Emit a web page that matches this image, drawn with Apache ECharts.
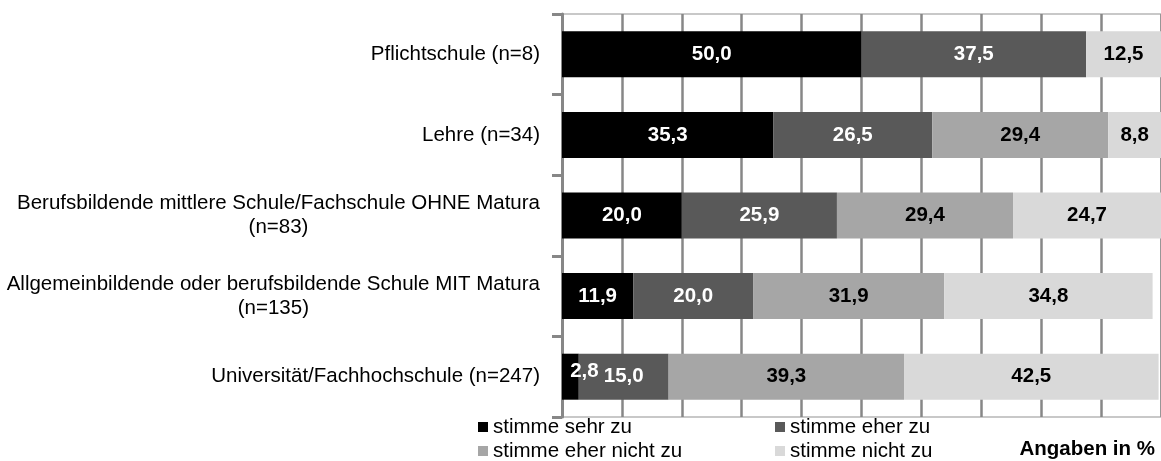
<!DOCTYPE html>
<html>
<head>
<meta charset="utf-8">
<script src="https://cdn.jsdelivr.net/npm/echarts@6/dist/echarts.min.js"></script>
<style>
  html, body { margin: 0; padding: 0; background: #fff; }
  #chart { width: 1161px; height: 461px; }
</style>
</head>
<body>
<div id="chart"></div>
<script>
// Zustimmung nach Bildungsabschluss (Angaben in %)
var categories = [
    'Pflichtschule (n=8)',
    'Lehre (n=34)',
    'Berufsbildende mittlere Schule/Fachschule OHNE Matura\n(n=83)',
    'Allgemeinbildende oder berufsbildende Schule MIT Matura\n(n=135)',
    'Universität/Fachhochschule (n=247)'
];
var seriesNames = ['stimme sehr zu', 'stimme eher zu', 'stimme eher nicht zu', 'stimme nicht zu'];
var sehrZu      = [50.0, 35.3, 20.0, 11.9, 2.8];
var eherZu      = [37.5, 26.5, 25.9, 20.0, 15.0];
var eherNichtZu = [0,    29.4, 29.4, 31.9, 39.3];
var nichtZu     = [12.5, 8.8,  24.7, 34.8, 42.5];

var colors = ['#000000', '#595959', '#a6a6a6', '#d9d9d9'];
var labelColors = ['#ffffff', '#ffffff', '#000000', '#000000'];
var FONT = '"Liberation Sans", Arial, sans-serif';
var FS = 20.5;

function fmt(p) {
    if (!p.value) return '';
    return p.value.toFixed(1).replace('.', ',');
}

function makeSeries(idx, values) {
    var data = values.map(function(v, i) {
        // tiny segment: label nudged right/up like in the original
        if (idx === 0 && i === 4) return { value: v, label: { offset: [14, -5] } };
        return v;
    });
    return {
        name: seriesNames[idx],
        type: 'bar',
        stack: 'total',
        barWidth: 46,
        itemStyle: { color: colors[idx] },
        label: {
            show: true,
            position: 'inside',
            formatter: fmt,
            color: labelColors[idx],
            fontFamily: FONT,
            fontSize: FS,
            fontWeight: 'bold'
        },
        data: data
    };
}

// one legend per entry so the 2x2 layout stays put
function legendItem(name, left, top) {
    return {
        left: left, top: top, padding: 0,
        icon: 'rect', itemWidth: 10, itemHeight: 10,
        textStyle: { fontFamily: FONT, fontSize: FS, color: '#000', lineHeight: 24 },
        data: [name]
    };
}

var chart = echarts.init(document.getElementById('chart'), null, { renderer: 'canvas' });
chart.setOption({
    animation: false,
    backgroundColor: '#ffffff',
    grid: {
        left: 562, right: 0, top: 14, bottom: 44,
        show: true, borderColor: '#c8c8c8', borderWidth: 2,
        outerBoundsMode: 'none'
    },
    legend: [
        legendItem(seriesNames[0], 478, 415),
        legendItem(seriesNames[1], 775, 415),
        legendItem(seriesNames[2], 478, 439),
        legendItem(seriesNames[3], 775, 439)
    ],
    xAxis: {
        type: 'value', min: 0, max: 100, interval: 10,
        axisLabel: { show: false },
        axisLine: { show: false },
        axisTick: { show: false },
        splitLine: { show: true, lineStyle: { color: '#878787', width: 2.5 } }
    },
    yAxis: {
        type: 'category', inverse: true,
        data: categories,
        axisLine: { show: true, lineStyle: { color: '#878787', width: 3 } },
        axisTick: { show: true, length: 10, lineStyle: { color: '#878787', width: 3 } },
        axisLabel: {
            margin: 22,
            color: '#000',
            fontFamily: FONT,
            fontSize: FS,
            lineHeight: 24,
            formatter: function(v) {
                return v.split('\n').map(function(l) { return '{c|' + l + '}'; }).join('\n');
            },
            rich: { c: { align: 'center', fontFamily: FONT, fontSize: FS, lineHeight: 24, color: '#000' } }
        }
    },
    graphic: [{
        type: 'text', right: 6, top: 439,
        style: { text: 'Angaben in %', font: 'bold ' + FS + 'px ' + FONT, fill: '#000' }
    }],
    series: [
        makeSeries(0, sehrZu),
        makeSeries(1, eherZu),
        makeSeries(2, eherNichtZu),
        makeSeries(3, nichtZu)
    ]
});
</script>
</body>
</html>
